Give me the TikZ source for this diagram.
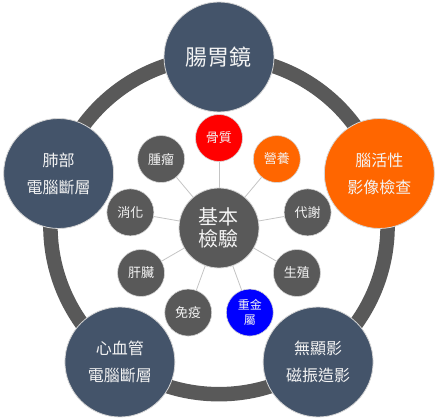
\documentclass[tikz,border=0pt]{standalone}
\usepackage{fontspec}
\setmainfont{Noto Sans CJK TC}
\usepackage{xcolor}
\usepackage{tikz}
\usetikzlibrary{positioning,backgrounds,calc}
\definecolor{chkslate} {HTML}{44546A}
\definecolor{chkgray}  {HTML}{595959}
\definecolor{chkorange}{HTML}{FF6600}
\definecolor{chkred}   {HTML}{FF0000}
\definecolor{chkblue}  {HTML}{0000FF}
\definecolor{spokegray}{HTML}{C4C4C4}
\definecolor{rimgray}  {HTML}{D6D6D6}
\definecolor{txtwhite} {HTML}{F4F4F4}
\tikzset{
  exam/.style={circle,draw=rimgray,line width=0.8pt,fill=chkslate,
               minimum size=110pt,inner sep=0pt,align=center,text=txtwhite,
               font=\fontsize{16}{27}\selectfont},
  examorange/.style={exam,fill=chkorange},
  hub/.style={circle,draw=rimgray,line width=0.8pt,fill=chkgray,
              minimum size=80pt,inner sep=0pt,align=center,text=txtwhite,
              font=\fontsize{20}{22}\selectfont},
  item/.style={circle,draw=rimgray,line width=0.6pt,fill=chkgray,
               minimum size=47pt,inner sep=0pt,align=center,text=txtwhite,
               font=\fontsize{13}{15}\selectfont},
  itemred/.style={item,fill=chkred},
  itemorange/.style={item,fill=chkorange},
  itemblue/.style={item,fill=chkblue,font=\fontsize{12}{15}\selectfont},
  ring/.style={draw=chkgray,line width=14.5pt},
  spoke/.style={draw=spokegray,line width=0.8pt},
}
\begin{document}
\begin{tikzpicture}
  \useasboundingbox (-219pt,-194.4pt) rectangle (221pt,225.6pt);
  \draw[ring](0,0) circle (168.6pt);

  % outer exams
  \node[exam,font=\fontsize{22}{27}\selectfont](GI) at (90:168.6pt)  {腸胃鏡};
  \node[examorange](BR) at (18:168.6pt)  {腦活性\\影像檢查};
  \node[exam](MR)  at (-54:168.6pt) {無顯影\\磁振造影};
  \node[exam](CV)  at (-126:168.6pt){心血管\\電腦斷層};
  \node[exam](LU)  at (162:168.6pt) {肺部\\電腦斷層};

  % basic check and its items
  \node[hub](BASE) at (0,-2.4pt) {基本\\檢驗};
  \node[itemred](BONE)    at ($(BASE)+(90:90pt)$)   {骨質};
  \node[itemorange](NUT)  at ($(BASE)+(50:90pt)$)   {營養};
  \node[item](MET)        at ($(BASE)+(10:90pt)$)   {代謝};
  \node[item](REP)        at ($(BASE)+(-30:90pt)$)  {生殖};
  \node[itemblue](HM)     at ($(BASE)+(-70:90pt)$)  {重金\\屬};
  \node[item](IMM)        at ($(BASE)+(-110:90pt)$) {免疫};
  \node[item](LIV)        at ($(BASE)+(-150:90pt)$) {肝臟};
  \node[item](DIG)        at ($(BASE)+(170:90pt)$)  {消化};
  \node[item](TUM)        at ($(BASE)+(130:90pt)$)  {腫瘤};

  \begin{scope}[on background layer]
    \draw[spoke](BASE) -- (BONE);
    \draw[spoke](BASE) -- (NUT);
    \draw[spoke](BASE) -- (MET);
    \draw[spoke](BASE) -- (REP);
    \draw[spoke](BASE) -- (HM);
    \draw[spoke](BASE) -- (IMM);
    \draw[spoke](BASE) -- (LIV);
    \draw[spoke](BASE) -- (DIG);
    \draw[spoke](BASE) -- (TUM);
  \end{scope}
\end{tikzpicture}
\end{document}
